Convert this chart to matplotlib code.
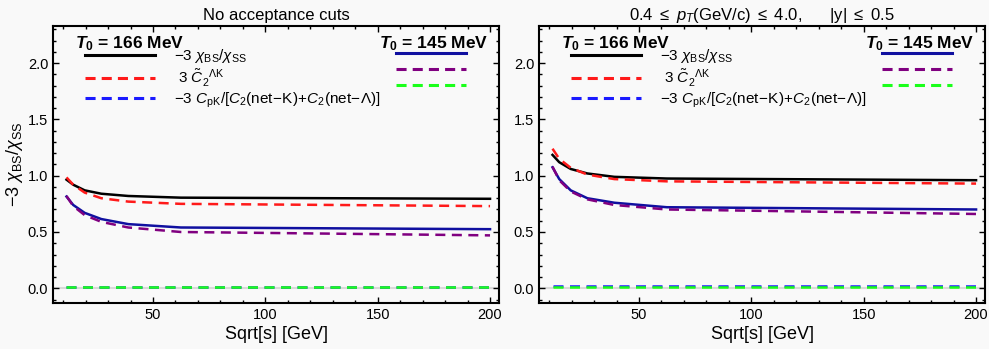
import matplotlib.pyplot as plt
import numpy as np
from matplotlib.lines import Line2D
from matplotlib.ticker import MultipleLocator

plt.rcParams['font.family'] = ['Liberation Sans', 'DejaVu Sans']
plt.rcParams['mathtext.fontset'] = 'custom'
plt.rcParams['mathtext.rm'] = 'Liberation Sans'
plt.rcParams['mathtext.it'] = 'Liberation Sans:italic'
plt.rcParams['mathtext.bf'] = 'Liberation Sans:bold'
plt.rcParams['mathtext.bfit'] = 'Liberation Sans:bold:italic'

# collision energies (GeV)
sqrt_s = [11.5, 14.5, 19.6, 27, 39, 62.4, 200]

# no acceptance cuts
full_chi_166 = [0.965, 0.92, 0.87, 0.84, 0.82, 0.805, 0.795]
full_c2_166 = [0.985, 0.92, 0.85, 0.80, 0.77, 0.75, 0.73]
full_cpk_166 = [0.013, 0.013, 0.013, 0.013, 0.013, 0.013, 0.013]
full_chi_145 = [0.815, 0.74, 0.67, 0.615, 0.57, 0.54, 0.525]
full_c2_145 = [0.82, 0.73, 0.65, 0.59, 0.54, 0.50, 0.47]
full_cpk_145 = [0.007, 0.007, 0.007, 0.007, 0.007, 0.007, 0.007]

# 0.4 < pT < 4.0, |y| < 0.5
cut_chi_166 = [1.185, 1.12, 1.06, 1.02, 0.99, 0.975, 0.96]
cut_c2_166 = [1.24, 1.15, 1.07, 1.01, 0.97, 0.95, 0.93]
cut_cpk_166 = [0.018, 0.018, 0.018, 0.018, 0.018, 0.018, 0.018]
cut_chi_145 = [1.075, 0.97, 0.87, 0.80, 0.76, 0.72, 0.70]
cut_c2_145 = [1.08, 0.96, 0.86, 0.79, 0.74, 0.70, 0.66]
cut_cpk_145 = [0.01, 0.01, 0.01, 0.01, 0.01, 0.01, 0.01]

titles = ['No acceptance cuts',
          r'0.4 $\leq$ $p_T$(GeV/c) $\leq$ 4.0,      |y| $\leq$ 0.5']
labels = [r'$-3\ \chi_{\rm BS}/\chi_{\rm SS}$',
          r' 3 $\tilde{C}_2^{\ \ \Lambda{\rm K}}$',
          r'$-3\ C_{\rm pK}/[C_2({\rm net}\!-\!{\rm K})\!+\!C_2({\rm net}\!-\!\Lambda)]$']

panels = [
    [full_chi_166, full_c2_166, full_cpk_166, full_chi_145, full_c2_145, full_cpk_145],
    [cut_chi_166, cut_c2_166, cut_cpk_166, cut_chi_145, cut_c2_145, cut_cpk_145],
]

colors = ['black', '#ff1a1a', '#1a1aff', '#1010a0', '#800080', '#1aff1a']
styles = ['-', '--', '--', '-', '--', '--']
bg = '#f9f9f9'

fig, axes = plt.subplots(1, 2, figsize=(9.89, 3.49), dpi=100, facecolor=bg)
fig.subplots_adjust(left=0.0536, right=0.996, top=0.9255, bottom=0.1327, wspace=0.0897)


def legend_handles(idx):
    out = []
    for i in idx:
        if styles[i] == '--':
            out.append(Line2D([], [], color=colors[i], lw=2.2, dashes=(3.3, 2.0)))
        else:
            out.append(Line2D([], [], color=colors[i], lw=2.2))
    return out


for ax, series, title in zip(axes, panels, titles):
    ax.set_facecolor(bg)
    ax.axhline(0, color='#d9d9d9', lw=1.5, zorder=1)
    # flat curves first so the others sit on top
    for i in [2, 5, 0, 1, 3, 4]:
        kw = dict(color=colors[i], lw=1.8, zorder=3)
        if styles[i] == '--':
            kw['dashes'] = (4.0, 2.6)
        ax.plot(sqrt_s, series[i], **kw)
    ax.set_xlim(5.5, 204)
    ax.set_ylim(-0.128, 2.33)
    ax.xaxis.set_major_locator(MultipleLocator(50))
    ax.xaxis.set_minor_locator(MultipleLocator(10))
    ax.yaxis.set_major_locator(MultipleLocator(0.5))
    ax.yaxis.set_minor_locator(MultipleLocator(0.1))
    ax.tick_params(which='both', direction='in', top=True, right=True, labelsize=10.5,
                   color='black', width=1.0)
    ax.tick_params(which='major', length=4)
    ax.tick_params(which='minor', length=2)
    ax.set_xticks([50, 100, 150, 200])
    ax.set_xticklabels(['50', '100', '150', '200'])
    for sp in ax.spines.values():
        sp.set_linewidth(1.5)
    ax.set_title(title, fontsize=12, pad=4)
    ax.set_xlabel('Sqrt[s] [GeV]', fontsize=13, labelpad=3)

    # T0 = 166 MeV column
    ax.text(0.049, 0.936, r'$\mathbfit{T}_\mathbf{0}$ = 166 MeV', transform=ax.transAxes,
            fontsize=12.5, fontweight='bold', ha='left', va='center')
    leg1 = ax.legend(legend_handles(range(3)), labels, loc='upper left',
                     bbox_to_anchor=(0.072, 0.923), frameon=False, handlelength=4.6,
                     handletextpad=1.2, labelspacing=0.12, fontsize=11,
                     borderpad=0, borderaxespad=0)
    ax.add_artist(leg1)
    # T0 = 145 MeV column
    ax.text(0.975, 0.936, r'$\mathbfit{T}_\mathbf{0}$ = 145 MeV', transform=ax.transAxes,
            fontsize=12.5, fontweight='bold', ha='right', va='center')
    ax.legend(legend_handles(range(3, 6)), ['', '', ''], loc='upper right',
              bbox_to_anchor=(0.926, 0.923), frameon=False, handlelength=4.6,
              handletextpad=0.0, labelspacing=0.12, fontsize=11,
              borderpad=0, borderaxespad=0)

axes[0].set_ylabel(r'$-3\ \chi_{\rm BS}/\chi_{\rm SS}$', fontsize=13, labelpad=2)

plt.savefig('out.png', dpi=100, facecolor=bg)
